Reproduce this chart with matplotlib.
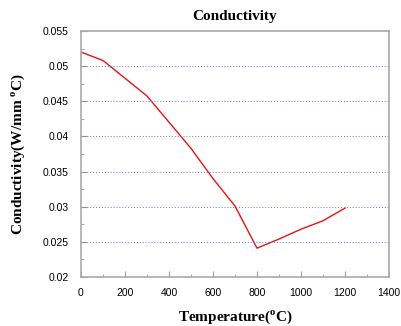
import numpy as np
import matplotlib
matplotlib.use('Agg')
import matplotlib.pyplot as plt
from matplotlib.ticker import MultipleLocator

plt.rcParams['mathtext.fontset'] = 'custom'
plt.rcParams['mathtext.rm'] = 'Liberation Serif:bold'

temps = [0, 100, 300, 500, 600, 700, 800, 900, 1000, 1100, 1200]
cond = [0.0520, 0.0508, 0.04575, 0.0383, 0.0340, 0.0301, 0.0241, 0.0254, 0.0268, 0.0280, 0.0298]

fig = plt.figure(figsize=(4.02, 3.26), dpi=100)
ax = fig.add_axes([81/402, 1-277/326, 308/402, 246/326])

ax.plot(temps, cond, color='#ee1111', lw=1.0)

ax.set_xlim(0, 1400)
ax.set_ylim(0.02, 0.055)
ax.xaxis.set_major_locator(MultipleLocator(200))
ax.xaxis.set_minor_locator(MultipleLocator(100))
ax.yaxis.set_major_locator(MultipleLocator(0.005))
ax.yaxis.set_minor_locator(MultipleLocator(0.0025))
ax.set_yticklabels(['%g' % v for v in ax.get_yticks()])

for t in ax.get_yticks():
    if 0.02 < t < 0.055:
        ax.axhline(t, color='#7070ee', lw=0.7, ls=(0, (1, 2)))

ax.tick_params(which='both', direction='in', colors='#999999', labelcolor='black',
               labelsize=7.5, labelfontfamily='Liberation Sans')
ax.tick_params(which='major', length=4)
ax.tick_params(which='minor', length=2)
ax.tick_params(axis='y', pad=9)
ax.tick_params(axis='x', pad=8)
for s in ax.spines.values():
    s.set_color('#aaaaaa')
    s.set_linewidth(1.2)

ax.set_title('Conductivity', family='Liberation Serif', weight='bold', fontsize=11, pad=8)
ax.set_xlabel('Temperature($^{\\rm o}$C)', family='Liberation Serif', weight='bold', fontsize=11, labelpad=7)
ax.set_ylabel('Conductivity(W/mm $^{\\rm o}$C)', family='Liberation Serif', weight='bold', fontsize=11, labelpad=11)

fig.savefig('out.png', dpi=100)
